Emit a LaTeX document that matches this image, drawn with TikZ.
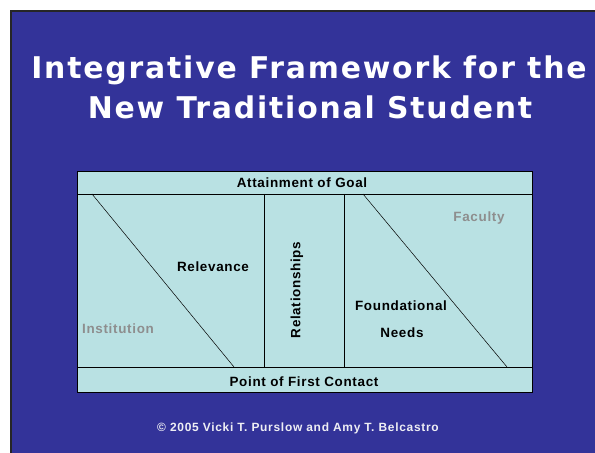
\documentclass[tikz,border=0pt]{standalone}
\usepackage{fontspec}
\setmainfont{Liberation Sans}
\newfontfamily\titlefont{DejaVu Sans}
\usetikzlibrary{positioning}
\definecolor{slideblue}{HTML}{333399}
\definecolor{boxcyan}{HTML}{B9E1E3}
\definecolor{softgray}{HTML}{8E8E8E}
\definecolor{lightwhite}{HTML}{EEEEF4}
\tikzset{
	band/.style={draw=black, fill=boxcyan, line width=0.8bp},
	heading/.style={text=white, inner sep=0pt, anchor=base, font=\titlefont\fontsize{30}{34}\selectfont\bfseries\addfontfeatures{LetterSpace=6}},
	boxlabel/.style={inner sep=0pt, anchor=base, font=\fontsize{13.5}{16}\selectfont\bfseries\addfontfeatures{LetterSpace=5}},
	sidelabel/.style={boxlabel, text=softgray},
}

\begin{document}
\begin{tikzpicture}[x=1bp,y=-1bp]
\useasboundingbox (0,0) rectangle (595,453);
% slide
\fill[white] (0,0) rectangle (595,453);
\fill[slideblue] (11,11) rectangle (595,453);
\draw[line width=2bp, black!85] (11,453) -- (11,11) -- (595,11);
\node[heading] (line1) at (309,79) {Integrative Framework for the};
\node[heading] (line2) at (310,119) {New Traditional Student};
% the framework box
\coordinate (nw) at (77,171);
\coordinate (se) at (532,392);
\draw[band] (nw) rectangle (se);
\draw[line width=0.8bp] (77,194) -- (532,194);
\draw[line width=0.8bp] (77,367) -- (532,367);
\draw[line width=0.8bp] (264,194) -- (264,367);
\draw[line width=0.8bp] (344,194) -- (344,367);
\draw[line width=0.5bp] (92,194) -- (234,367);
\draw[line width=0.5bp] (363,194) -- (507,367);
\node[boxlabel] (goal) at (302,188) {Attainment of Goal};
\node[boxlabel] (contact) at (304,386) {Point of First Contact};
\node[boxlabel] (relevance) at (213,272) {Relevance};
\node[boxlabel, anchor=center, rotate=90] (relation) at (297,290) {Relationships};
\node[boxlabel] (found) at (401,310) {Foundational};
\node[boxlabel] (needs) at (402,337) {Needs};
\node[sidelabel] (inst) at (118,333) {Institution};
\node[sidelabel] (faculty) at (479,222) {Faculty};
\node[inner sep=0pt, anchor=base, text=lightwhite, font=\fontsize{12}{14}\selectfont\bfseries\addfontfeatures{LetterSpace=6}] (copy) at (298,431) {© 2005 Vicki T. Purslow and Amy T. Belcastro};
\end{tikzpicture}
\end{document}
